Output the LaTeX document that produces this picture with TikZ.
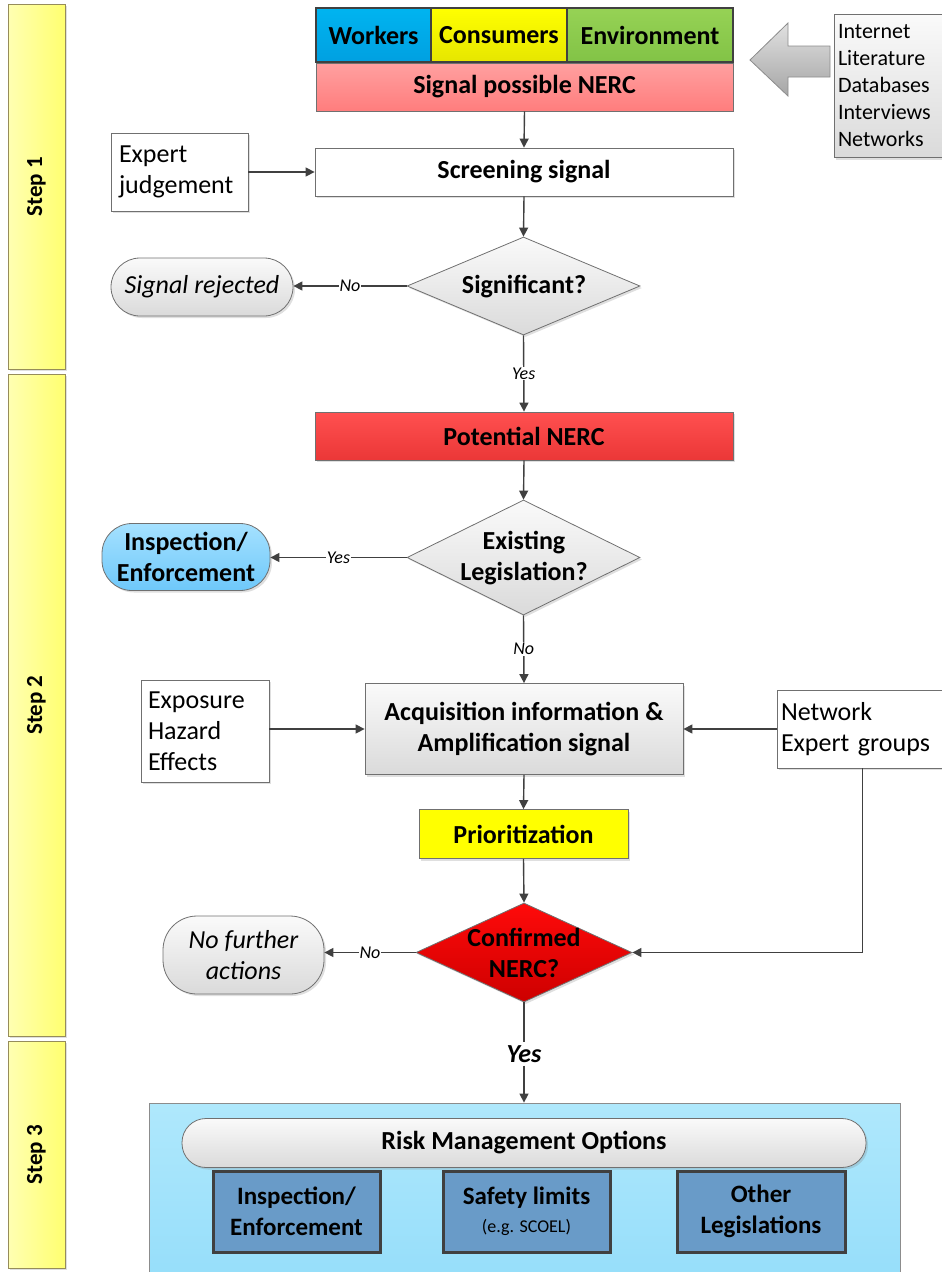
\documentclass[tikz,border=0pt]{standalone}
\usepackage{fontspec}
\setmainfont{Carlito}
\usetikzlibrary{shapes.geometric,arrows.meta,shadows,calc}
\definecolor{ln}{RGB}{64,64,64}
\definecolor{stepL}{RGB}{255,255,178}
\definecolor{stepR}{RGB}{255,255,112}
\definecolor{stepD}{RGB}{150,140,90}
\definecolor{wkT}{RGB}{0,180,240}
\definecolor{wkB}{RGB}{0,160,225}
\definecolor{csT}{RGB}{255,255,0}
\definecolor{csB}{RGB}{230,230,0}
\definecolor{enT}{RGB}{150,210,85}
\definecolor{enB}{RGB}{130,195,70}
\definecolor{spT}{RGB}{255,160,160}
\definecolor{spB}{RGB}{255,125,125}
\definecolor{potT}{RGB}{255,80,80}
\definecolor{potB}{RGB}{235,55,55}
\definecolor{cnT}{RGB}{255,10,10}
\definecolor{cnB}{RGB}{205,0,0}
\definecolor{ieT}{RGB}{165,225,255}
\definecolor{ieB}{RGB}{110,200,250}
\definecolor{bbT}{RGB}{175,232,252}
\definecolor{bbB}{RGB}{150,222,250}
\definecolor{optF}{RGB}{105,155,200}
\definecolor{prioF}{RGB}{255,255,0}
\definecolor{greyT}{RGB}{250,250,250}
\definecolor{greyB}{RGB}{218,218,218}
\begin{document}
\begin{tikzpicture}[x=1pt,y=-1pt,
  shd/.style={drop shadow={opacity=0.25, shadow xshift=2pt, shadow yshift=-2pt, fill=black!50}},
  box/.style={draw=ln!75, line width=0.8pt, inner sep=0pt, align=center},
  bl/.style={font=\fontsize{26}{31}\selectfont\bfseries},
  pl/.style={font=\fontsize{26}{31}\selectfont},
  stepbar/.style={draw=stepD, line width=0.8pt, left color=stepL, right color=stepR, minimum width=57pt, inner sep=0pt, shd},
  steptext/.style={rotate=90, font=\fontsize{23}{27}\selectfont\bfseries},
  head/.style={draw=ln, line width=2.5pt, minimum height=54pt, inner sep=0pt, font=\fontsize{26}{31}\selectfont\bfseries},
  greyg/.style={top color=greyT, bottom color=greyB},
  stad/.style={box, greyg, shd},
  dia/.style={diamond, draw=ln!75, line width=0.8pt, inner sep=0pt, shd},
  opt/.style={draw=ln, line width=3pt, fill=optF, minimum width=167pt, minimum height=81pt, inner sep=0pt, align=center, font=\fontsize{25}{31}\selectfont\bfseries, shd},
  arr/.style={draw=ln, line width=1.4pt, -{Triangle[length=9pt,width=9pt]}},
  plainline/.style={draw=ln, line width=1.4pt},
  lab/.style={fill=white, inner sep=1pt, font=\fontsize{18}{21}\selectfont\itshape, text=black}
]
\useasboundingbox (0,0) rectangle (942,1272);

% step bars
\node[stepbar, minimum height=365pt] (s1) at (36.5,186.5) {};
\node[steptext] (s1t) at (s1.center) {Step 1};
\node[stepbar, minimum height=662pt] (s2) at (36.5,705) {};
\node[steptext] (s2t) at (s2.center) {Step 2};
\node[stepbar, minimum height=227pt] (s3) at (36.5,1154.5) {};
\node[steptext] (s3t) at (s3.center) {Step 3};

% header
\node[box, top color=spT, bottom color=spB, minimum width=417pt, minimum height=48pt, bl] (signalp) at (524.5,87) {Signal possible NERC};
\node[head, top color=wkT, bottom color=wkB, minimum width=115pt] (workers) at (373.5,35) {Workers};
\node[head, top color=csT, bottom color=csB, minimum width=136pt] (consumers) at (499,35) {Consumers};
\node[head, top color=enT, bottom color=enB, minimum width=166pt] (environment) at (650,35) {Environment};

% grey arrow
\draw[draw=black!45, line width=0.8pt, top color=black!12, bottom color=black!35]
  (750,60) -- (788,23) -- (788,46) -- (830,46) -- (830,77) -- (788,77) -- (788,96) -- cycle;

% sources
\node[box, greyg, shd, text width=105pt, inner sep=4pt, align=left, minimum height=143pt,
  font=\fontsize{22}{27}\selectfont] (sources) at (890.5,86)
  {Internet\\Literature\\Databases\\Interviews\\Networks};

% screening
\node[box, fill=white, shd, minimum width=418pt, minimum height=48pt, bl] (screen) at (524,172) {Screening signal};
\node[box, fill=white, shd, text width=121pt, inner xsep=8pt, inner ysep=0pt, align=left, minimum height=78pt, pl] (expert) at (179.5,172) {Expert\\judgement};

% significant
\node[dia, greyg, minimum width=233pt, minimum height=98pt] (sig) at (523.5,286) {};
\node[bl] (sigt) at (524,287) {Significant?};
\node[stad, rounded corners=29pt, minimum width=182pt, minimum height=58pt, font=\fontsize{26}{31}\selectfont\itshape] (rej) at (202,287) {Signal rejected};

% potential
\node[box, top color=potT, bottom color=potB, shd, minimum width=418pt, minimum height=48pt, bl] (pot) at (524,436) {Potential NERC};

% existing legislation
\node[dia, greyg, minimum width=233pt, minimum height=115pt] (exist) at (523.5,557.5) {};
\node[bl, align=center] (existt) at (524,558) {Existing\\Legislation?};
\node[box, top color=ieT, bottom color=ieB, shd, rounded corners=30pt, minimum width=168pt, minimum height=67pt, bl] (insp) at (186,557) {Inspection/\\Enforcement};

% acquisition
\node[box, greyg, shd, minimum width=318pt, minimum height=91pt, bl] (acq) at (524,729) {Acquisition information \&\\Amplification signal};
\node[box, fill=white, shd, text width=114pt, inner xsep=7pt, inner ysep=0pt, align=left, minimum height=102pt, pl] (expo) at (205,731) {Exposure\\Hazard\\Effects};
\node[box, fill=white, shd, text width=163pt, inner sep=4pt, align=left, minimum height=78pt, pl] (network) at (862.5,729) {Network\\Expert groups};

% prioritization
\node[box, fill=prioF, shd, minimum width=209pt, minimum height=49pt, bl] (prio) at (523.5,834) {Prioritization};

% confirmed
\node[dia, top color=cnT, bottom color=cnB, minimum width=216pt, minimum height=99pt] (conf) at (524,952.5) {};
\node[bl, align=center] (conft) at (524,953) {Confirmed\\NERC?};
\node[stad, rounded corners=34pt, minimum width=161pt, minimum height=78pt, font=\fontsize{26}{31}\selectfont\itshape] (nofur) at (243.5,955) {No further\\actions};

% yes
\node[font=\fontsize{26}{31}\selectfont\bfseries\itshape, inner sep=3pt] (yes) at (524,1054) {Yes};

% bottom box
\node[draw=ln!60, line width=0.8pt, top color=bbT, bottom color=bbB, minimum width=751pt, minimum height=177pt, inner sep=0pt] (bottom) at (524.5,1191.5) {};
\node[stad, rounded corners=24pt, minimum width=684pt, minimum height=49pt, bl] (rmo) at (524,1143) {Risk Management Options};
\node[opt] (opt1) at (296.5,1211.5) {Inspection/\\Enforcement};
\node[opt] (opt2) at (526.5,1211.5) {Safety limits\\[-3pt]{\fontsize{18}{22}\selectfont\mdseries (e.g. SCOEL)}};
\node[opt, minimum width=168pt] (opt3) at (761,1211.5) {Other\\Legislations};

% connectors
\draw[arr] (signalp.south) -- (screen.north);
\draw[arr] (expert.east) -- (screen.west);
\draw[arr] (screen.south) -- (sig.north);
\draw[arr] (sig.west) -- node[lab] {No} (rej.east |- sig.west);
\draw[arr] (sig.south) -- node[lab] {Yes} (pot.north);
\draw[arr] (pot.south) -- (exist.north);
\draw[arr] (exist.west) -- node[lab] {Yes} (insp.east |- exist.west);
\draw[arr] (exist.south) -- node[lab] {No} (acq.north);
\draw[arr] (expo.east |- acq.west) -- (acq.west);
\draw[arr] (network.west |- acq.east) -- (acq.east);
\draw[arr] (acq.south) -- (prio.north);
\draw[arr] (prio.south) -- (conf.north);
\draw[arr] (network.south) |- (conf.east);
\draw[arr] (conf.west) -- node[lab] {No} (nofur.east |- conf.west);
\draw[plainline] (conf.south) -- (yes.north);
\draw[arr] (yes.south) -- (yes.south |- bottom.north);
\end{tikzpicture}
\end{document}
